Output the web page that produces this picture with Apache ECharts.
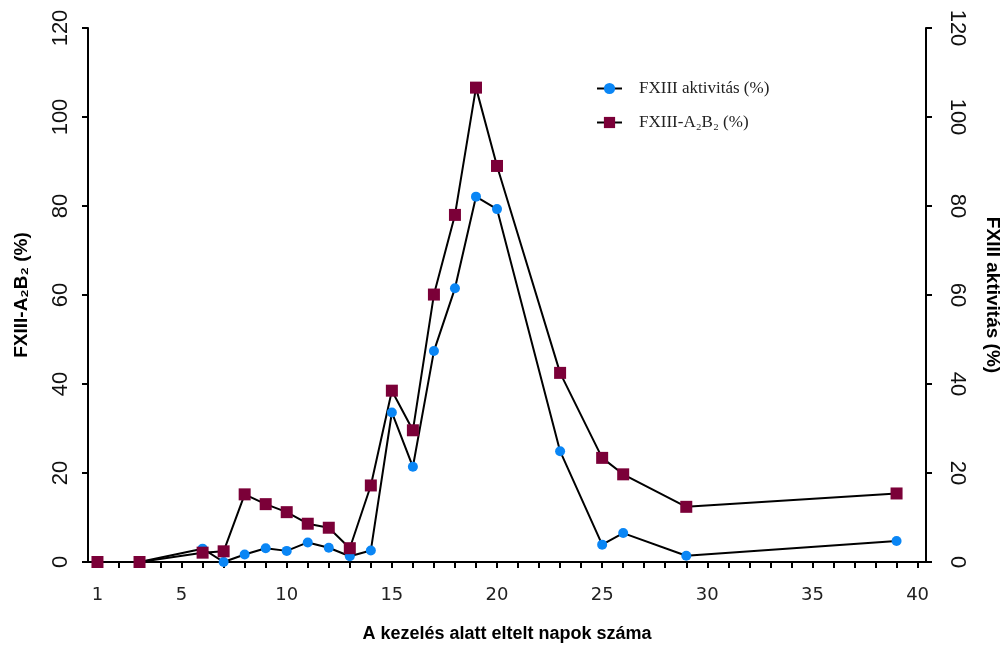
<!DOCTYPE html>
<html>
<head>
  <meta charset="utf-8">
  <title>FXIII</title>
  <style type="text/css">
    html, body { margin: 0; padding: 0; background: #fff; }
    #main { width: 1003px; height: 646px; }
  </style>
</head>
<body>
<div id="main"></div>
<script type="text/javascript" src="https://cdn.jsdelivr.net/npm/echarts@6/dist/echarts.min.js"></script>
<script type="text/javascript">
  // napok (x) es a ket meres
  var days = [1, 3, 6, 7, 8, 9, 10, 11, 12, 13, 14, 15, 16, 17, 18, 19, 20, 23, 25, 26, 29, 39];
  var activity = [0, 0, 3.0, 0, 1.7, 3.1, 2.5, 4.4, 3.2, 1.3, 2.6, 33.6, 21.4, 47.4, 61.5, 82.1, 79.3, 24.9, 3.9, 6.5, 1.4, 4.7];
  var a2b2 = [0, 0, 2.1, 2.4, 15.2, 13.0, 11.2, 8.6, 7.7, 3.1, 17.2, 38.5, 29.6, 60.1, 78.0, 106.6, 89.0, 42.5, 23.4, 19.7, 12.4, 15.4];
  var xTicks = [];
  for (var t = 1; t <= 40; t++) xTicks.push(t);
  var xLabels = [1, 5, 10, 15, 20, 25, 30, 35, 40];
  var yName1 = 'FXIII-A\u2082B\u2082 (%)';
  var yName2 = 'FXIII aktivitás (%)';
  var name1 = 'FXIII aktivitás (%)';
  var name2 = 'FXIII-A\u2082B\u2082 (%)';

  function pairs(xs, ys) {
    var out = [];
    for (var i = 0; i < xs.length; i++) out.push([xs[i], ys[i]]);
    return out;
  }

  var myChart = echarts.init(document.getElementById('main'));

  var yAxisBase = {
    type: 'value',
    min: 0,
    max: 120,
    interval: 20,
    nameLocation: 'middle',
    nameTextStyle: {
      fontFamily: 'Liberation Sans', fontWeight: 'bold', fontSize: 19, color: '#000'
    },
    axisLine: {show: true, lineStyle: {color: '#000', width: 2}},
    axisTick: {show: true, length: 6, lineStyle: {color: '#000', width: 2}},
    splitLine: {show: false}
  };

  var option = {
    backgroundColor: '#fff',
    animation: false,
    legend: {
      orient: 'vertical',
      left: 591,
      top: 75,
      itemWidth: 25,
      itemHeight: 14,
      itemGap: 17,
      data: [name1, name2],
      textStyle: {fontFamily: 'Liberation Serif', fontSize: 17, color: '#222', padding: [0, 0, 0, 12]}
    },
    grid: {left: 88, right: 77, top: 28, bottom: 84, containLabel: false, outerBoundsMode: 'none'},
    xAxis: {
      type: 'value',
      min: 0.55,
      max: 40.4,
      name: 'A kezelés alatt eltelt napok száma',
      nameLocation: 'middle',
      nameGap: 63,
      nameTextStyle: {fontFamily: 'Liberation Sans', fontWeight: 'bold', fontSize: 18, color: '#000'},
      axisLine: {show: true, onZero: false, lineStyle: {color: '#000', width: 2}},
      axisTick: {show: true, length: 6, customValues: xTicks, lineStyle: {color: '#000', width: 2}},
      axisLabel: {
        customValues: xLabels,
        margin: 24,
        fontFamily: 'DejaVu Sans', fontSize: 18, color: '#222'
      },
      splitLine: {show: false}
    },
    yAxis: [
      echarts.util.merge({
        position: 'left',
        name: yName1,
        nameGap: 57,
        nameRotate: 90,
        axisLabel: {rotate: 90, margin: 16, fontFamily: 'Liberation Sans', fontSize: 22, color: '#111'}
      }, yAxisBase),
      echarts.util.merge({
        position: 'right',
        name: yName2,
        nameGap: 57,
        nameRotate: -90,
        axisLabel: {rotate: -90, margin: 20, fontFamily: 'Liberation Sans', fontSize: 22, color: '#111'}
      }, yAxisBase)
    ],
    series: [
      {
        name: name1,
        type: 'line',
        yAxisIndex: 1,
        data: pairs(days, activity),
        symbol: 'circle',
        symbolSize: 10,
        itemStyle: {color: '#0a86f5'},
        lineStyle: {color: '#000', width: 2}
      },
      {
        name: name2,
        type: 'line',
        yAxisIndex: 0,
        data: pairs(days, a2b2),
        symbol: 'rect',
        symbolSize: 12,
        itemStyle: {color: '#7b0038'},
        lineStyle: {color: '#000', width: 2}
      }
    ]
  };

  myChart.setOption(option);
</script>
</body>
</html>
